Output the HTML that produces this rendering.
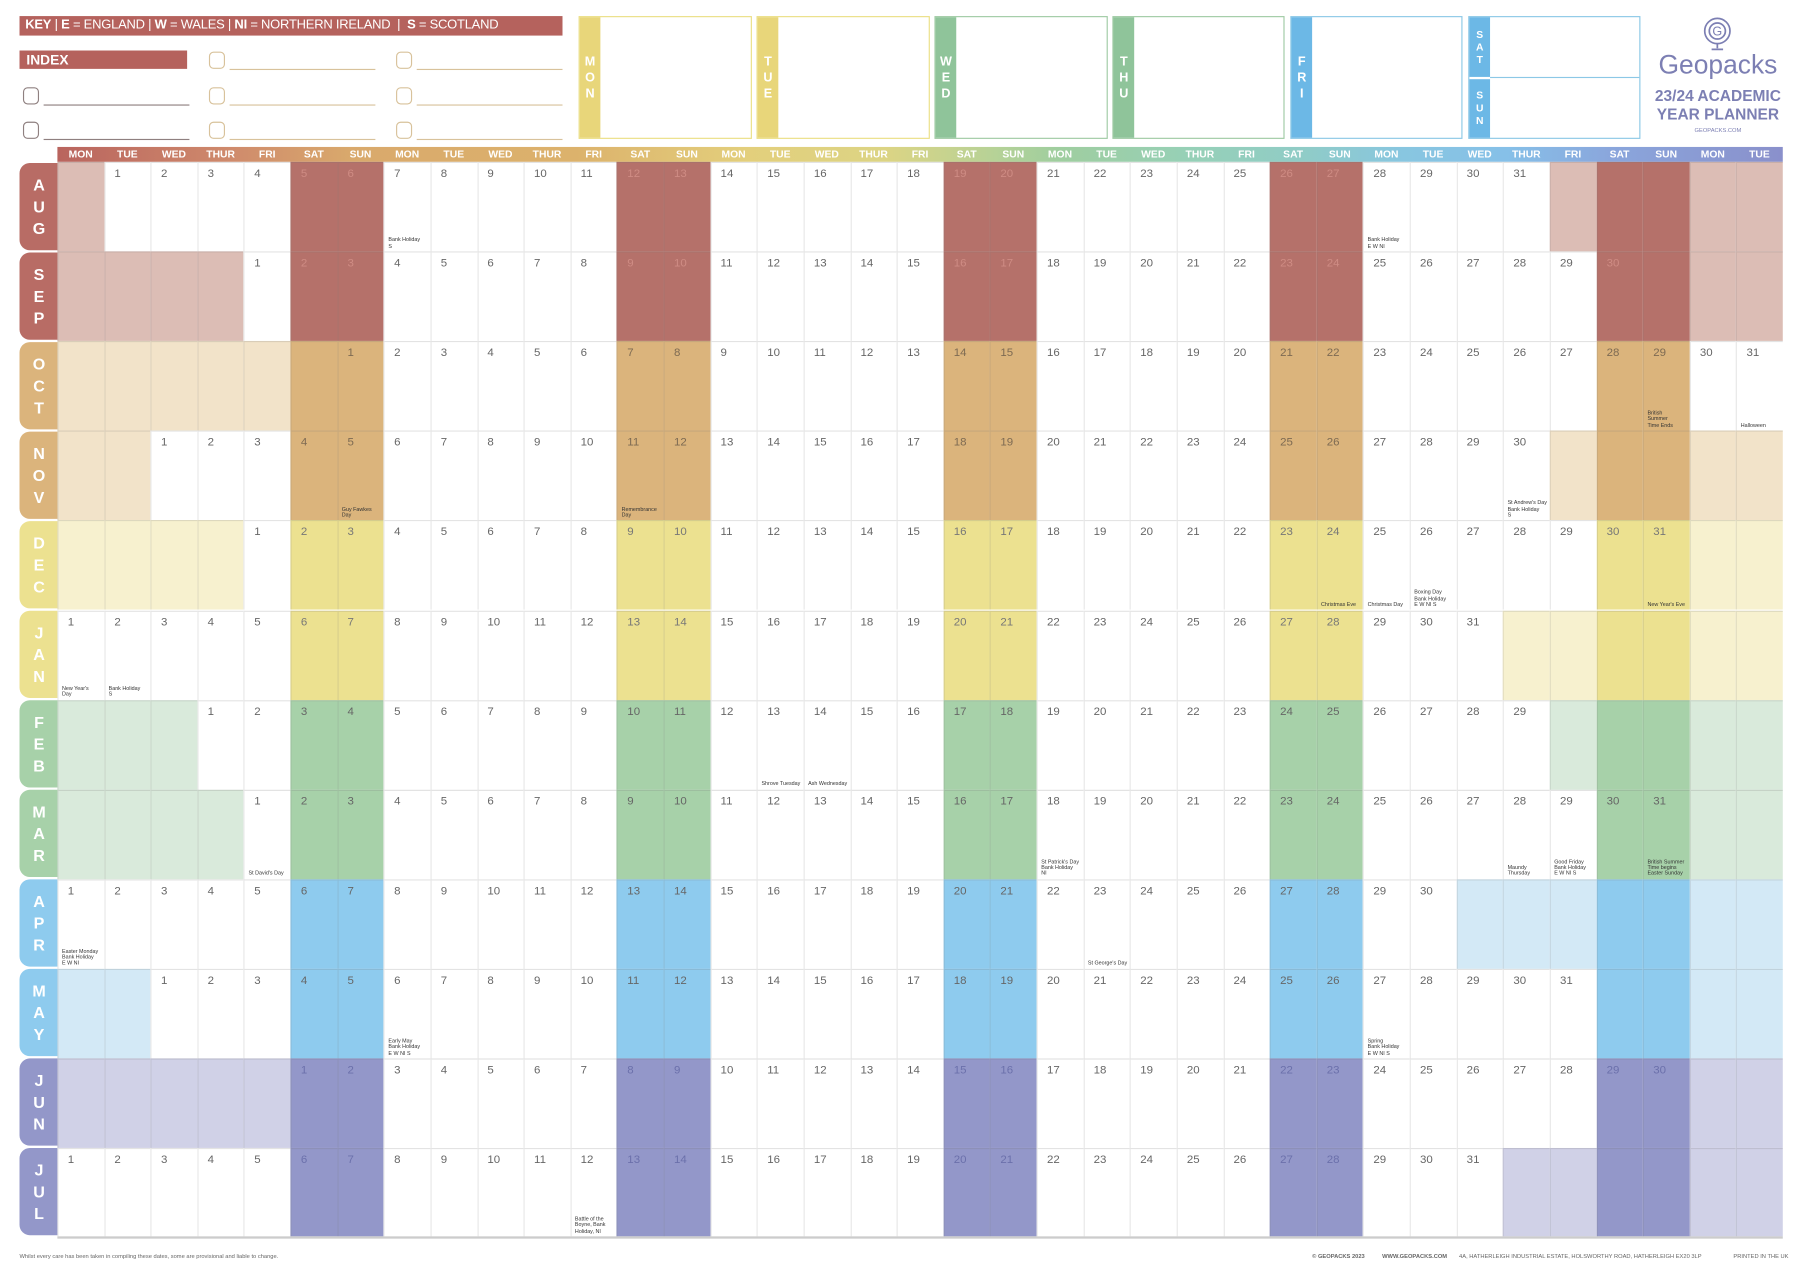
<!DOCTYPE html>
<html><head><meta charset="utf-8"><style>
*{margin:0;padding:0;box-sizing:border-box}
html,body{width:1800px;height:1278px;overflow:hidden;background:#fff}
.pg{position:absolute;left:0;top:0;width:1568px;height:1113px;transform:scale(1.14796);transform-origin:0 0;font-family:"Liberation Sans",sans-serif;color:#555}
.key{position:absolute;left:17px;top:14px;width:473px;height:17px;background:#b5625d;color:#fff;font-size:11.3px;letter-spacing:-0.2px;line-height:17px;padding-left:5px;white-space:nowrap;overflow:hidden}
.idx{position:absolute;left:17px;top:44px;width:146px;height:16px;background:#b5625d;color:#fff;font-size:12px;font-weight:bold;line-height:16px;padding-left:6px}
.cb{position:absolute;width:14px;height:15px;border:1.3px solid #d8c29b;border-radius:4px}
.cb.d{border-color:#8f8080}
.ln{position:absolute;height:1px;background:#d8c29b}
.ln.d{background:#8f8080}
.box{position:absolute;top:14px;height:107px;border:1.3px solid}
.tab{position:absolute;left:0;top:0;bottom:0;width:18px;color:#fff;font-size:11px;font-weight:bold;display:flex;flex-direction:column;align-items:center;justify-content:center;line-height:14px}
.hdr{position:absolute;left:50px;top:128px;width:1503px;height:13px;display:grid;grid-template-columns:repeat(37,1fr);background:linear-gradient(90deg,#b9645e 0%,#cf8a6c 10%,#d9a96c 17%,#dcb26c 30%,#e3cf7c 40%,#dcd484 48%,#b8d296 54%,#9fce9f 58%,#96d0b8 66%,#90ccc6 72%,#88c6e0 78%,#86c0e8 84%,#8aa6dc 90%,#8a90cb 100%)}
.hdr span{color:#fff;font-size:9px;font-weight:bold;text-align:center;line-height:13px}
.row{position:absolute;left:50px;width:1503px;height:78.1px;display:grid;grid-template-columns:repeat(37,1fr)}
.row>*{position:relative;font-style:normal;font-weight:normal;text-decoration:none;font-size:10px;padding:4px 0 0 8px;border-left:1px solid rgba(120,120,120,.17);border-top:1px solid rgba(120,120,120,.2);background:#fff;color:#666}
.row em{position:absolute;left:3px;bottom:2px;font-style:normal;font-size:4.7px;line-height:5.4px;color:#333;white-space:nowrap}
.r1 i{background:#dcbdb5}.r1 s{background:#b5716a;color:#cf8c84}
.r2 i{background:#f2e3c9}.r2 s{background:#dbb47c;color:#7d6a52}
.r3 i{background:#f7f1cf}.r3 s{background:#ece190;color:#777}
.r4 i{background:#d9eadb}.r4 s{background:#a7d1a9;color:#666}
.r5 i{background:#d3e9f6}.r5 s{background:#8ecbee;color:#666}
.r6 i{background:#d0d1e7}.r6 s{background:#9397c9;color:#6b70ab}
.mt{position:absolute;left:17px;width:34px;height:76px;border-radius:9px 0 0 9px;color:#fff;font-weight:bold;font-size:14px;line-height:19px;display:flex;flex-direction:column;align-items:center;justify-content:center}
.gb{position:absolute;left:50px;top:1077px;width:1503px;height:2px;background:#ccc}
.ft{position:absolute;top:1092px;font-size:5px;color:#666;white-space:nowrap}
.logo{position:absolute;left:1430px;width:133px;text-align:center;color:#7c7fb3}
</style></head><body><div class="pg">
<div class="key"><b>KEY</b> | <b>E</b> = ENGLAND | <b>W</b> = WALES | <b>NI</b> = NORTHERN IRELAND &nbsp;| &nbsp;<b>S</b> = SCOTLAND</div>
<div class="idx">INDEX</div>
<div class="cb d" style="left:20px;top:76px"></div><div class="ln d" style="left:38px;top:91px;width:127px"></div>
<div class="cb d" style="left:20px;top:106px"></div><div class="ln d" style="left:38px;top:121px;width:127px"></div>
<div class="cb" style="left:182px;top:45px"></div><div class="ln" style="left:200px;top:60px;width:127px"></div>
<div class="cb" style="left:182px;top:76px"></div><div class="ln" style="left:200px;top:91px;width:127px"></div>
<div class="cb" style="left:182px;top:106px"></div><div class="ln" style="left:200px;top:121px;width:127px"></div>
<div class="cb" style="left:345px;top:45px"></div><div class="ln" style="left:363px;top:60px;width:127px"></div>
<div class="cb" style="left:345px;top:76px"></div><div class="ln" style="left:363px;top:91px;width:127px"></div>
<div class="cb" style="left:345px;top:106px"></div><div class="ln" style="left:363px;top:121px;width:127px"></div>

<div class="box" style="left:504px;width:151px;border-color:#ebdf85"><div class="tab" style="background:#e8d67a"><span>M</span><span>O</span><span>N</span></div></div>
<div class="box" style="left:659px;width:151px;border-color:#ebdf85"><div class="tab" style="background:#e8d67a"><span>T</span><span>U</span><span>E</span></div></div>
<div class="box" style="left:814px;width:151px;border-color:#9fcaa4"><div class="tab" style="background:#8fc49a"><span>W</span><span>E</span><span>D</span></div></div>
<div class="box" style="left:969px;width:150px;border-color:#9fcaa4"><div class="tab" style="background:#8fc49a"><span>T</span><span>H</span><span>U</span></div></div>
<div class="box" style="left:1124px;width:150px;border-color:#8cc8e6"><div class="tab" style="background:#6cb8e6"><span>F</span><span>R</span><span>I</span></div></div>
<div class="box" style="left:1279px;width:150px;border-color:#8cc8e6">
<div class="tab" style="background:#6cb8e6;bottom:auto;height:52px;font-size:9px;line-height:11px"><span>S</span><span>A</span><span>T</span></div>
<div class="tab" style="background:#6cb8e6;top:54px;font-size:9px;line-height:11px"><span>S</span><span>U</span><span>N</span></div>
<div style="position:absolute;left:18px;right:0;top:52px;height:1.3px;background:#8cc8e6"></div></div>

<svg style="position:absolute;left:1482px;top:14px" width="28" height="32" viewBox="0 0 28 32"><circle cx="14" cy="13" r="11" fill="none" stroke="#7c7fb3" stroke-width="1.5"/><circle cx="14" cy="13" r="7" fill="none" stroke="#7c7fb3" stroke-width="1.5"/><text x="14" y="17" text-anchor="middle" font-family="Liberation Sans" font-size="11" fill="#7c7fb3">G</text><line x1="14" y1="24" x2="14" y2="28" stroke="#7c7fb3" stroke-width="1.5"/><line x1="9" y1="29" x2="19" y2="29" stroke="#7c7fb3" stroke-width="1.5"/></svg>
<div class="logo" style="top:43px;font-size:23px">Geopacks</div>
<div class="logo" style="top:76px;font-size:13.5px;line-height:16px;font-weight:bold">23/24 ACADEMIC<br>YEAR PLANNER</div>
<div class="logo" style="top:111px;font-size:5px">GEOPACKS.COM</div>

<div class="hdr"><span>MON</span><span>TUE</span><span>WED</span><span>THUR</span><span>FRI</span><span>SAT</span><span>SUN</span><span>MON</span><span>TUE</span><span>WED</span><span>THUR</span><span>FRI</span><span>SAT</span><span>SUN</span><span>MON</span><span>TUE</span><span>WED</span><span>THUR</span><span>FRI</span><span>SAT</span><span>SUN</span><span>MON</span><span>TUE</span><span>WED</span><span>THUR</span><span>FRI</span><span>SAT</span><span>SUN</span><span>MON</span><span>TUE</span><span>WED</span><span>THUR</span><span>FRI</span><span>SAT</span><span>SUN</span><span>MON</span><span>TUE</span></div>

<div class="mt" style="top:142px;background:#b86c65"><span>A</span><span>U</span><span>G</span></div>
<div class="mt" style="top:220px;background:#b86c65"><span>S</span><span>E</span><span>P</span></div>
<div class="mt" style="top:298px;background:#dbb47c"><span>O</span><span>C</span><span>T</span></div>
<div class="mt" style="top:376px;background:#dbb47c"><span>N</span><span>O</span><span>V</span></div>
<div class="mt" style="top:454px;background:#ece190"><span>D</span><span>E</span><span>C</span></div>
<div class="mt" style="top:532px;background:#ece190"><span>J</span><span>A</span><span>N</span></div>
<div class="mt" style="top:610px;background:#a7d1a9"><span>F</span><span>E</span><span>B</span></div>
<div class="mt" style="top:688px;background:#a7d1a9"><span>M</span><span>A</span><span>R</span></div>
<div class="mt" style="top:766px;background:#8ecbee"><span>A</span><span>P</span><span>R</span></div>
<div class="mt" style="top:844px;background:#8ecbee"><span>M</span><span>A</span><span>Y</span></div>
<div class="mt" style="top:922px;background:#9397c9"><span>J</span><span>U</span><span>N</span></div>
<div class="mt" style="top:1000px;background:#9397c9"><span>J</span><span>U</span><span>L</span></div>

<div class="row r1" style="top:141px"><i></i><b>1</b><b>2</b><b>3</b><b>4</b><s>5</s><s>6</s><b>7<em>Bank Holiday<br>S</em></b><b>8</b><b>9</b><b>10</b><b>11</b><s>12</s><s>13</s><b>14</b><b>15</b><b>16</b><b>17</b><b>18</b><s>19</s><s>20</s><b>21</b><b>22</b><b>23</b><b>24</b><b>25</b><s>26</s><s>27</s><b>28<em>Bank Holiday<br>E W NI</em></b><b>29</b><b>30</b><b>31</b><i></i><s></s><s></s><i></i><i></i></div>
<div class="row r1" style="top:219.1px"><i></i><i></i><i></i><i></i><b>1</b><s>2</s><s>3</s><b>4</b><b>5</b><b>6</b><b>7</b><b>8</b><s>9</s><s>10</s><b>11</b><b>12</b><b>13</b><b>14</b><b>15</b><s>16</s><s>17</s><b>18</b><b>19</b><b>20</b><b>21</b><b>22</b><s>23</s><s>24</s><b>25</b><b>26</b><b>27</b><b>28</b><b>29</b><s>30</s><s></s><i></i><i></i></div>
<div class="row r2" style="top:297.2px"><i></i><i></i><i></i><i></i><i></i><s></s><s>1</s><b>2</b><b>3</b><b>4</b><b>5</b><b>6</b><s>7</s><s>8</s><b>9</b><b>10</b><b>11</b><b>12</b><b>13</b><s>14</s><s>15</s><b>16</b><b>17</b><b>18</b><b>19</b><b>20</b><s>21</s><s>22</s><b>23</b><b>24</b><b>25</b><b>26</b><b>27</b><s>28</s><s>29<em>British<br>Summer<br>Time Ends</em></s><b>30</b><b>31<em>Halloween</em></b></div>
<div class="row r2" style="top:375.3px"><i></i><i></i><b>1</b><b>2</b><b>3</b><s>4</s><s>5<em>Guy Fawkes<br>Day</em></s><b>6</b><b>7</b><b>8</b><b>9</b><b>10</b><s>11<em>Remembrance<br>Day</em></s><s>12</s><b>13</b><b>14</b><b>15</b><b>16</b><b>17</b><s>18</s><s>19</s><b>20</b><b>21</b><b>22</b><b>23</b><b>24</b><s>25</s><s>26</s><b>27</b><b>28</b><b>29</b><b>30<em>St Andrew's Day<br>Bank Holiday<br>S</em></b><i></i><s></s><s></s><i></i><i></i></div>
<div class="row r3" style="top:453.4px"><i></i><i></i><i></i><i></i><b>1</b><s>2</s><s>3</s><b>4</b><b>5</b><b>6</b><b>7</b><b>8</b><s>9</s><s>10</s><b>11</b><b>12</b><b>13</b><b>14</b><b>15</b><s>16</s><s>17</s><b>18</b><b>19</b><b>20</b><b>21</b><b>22</b><s>23</s><s>24<em>Christmas Eve</em></s><b>25<em>Christmas Day</em></b><b>26<em>Boxing Day<br>Bank Holiday<br>E W NI S</em></b><b>27</b><b>28</b><b>29</b><s>30</s><s>31<em>New Year's Eve</em></s><i></i><i></i></div>
<div class="row r3" style="top:531.5px"><b>1<em>New Year's<br>Day</em></b><b>2<em>Bank Holiday<br>S</em></b><b>3</b><b>4</b><b>5</b><s>6</s><s>7</s><b>8</b><b>9</b><b>10</b><b>11</b><b>12</b><s>13</s><s>14</s><b>15</b><b>16</b><b>17</b><b>18</b><b>19</b><s>20</s><s>21</s><b>22</b><b>23</b><b>24</b><b>25</b><b>26</b><s>27</s><s>28</s><b>29</b><b>30</b><b>31</b><i></i><i></i><s></s><s></s><i></i><i></i></div>
<div class="row r4" style="top:609.6px"><i></i><i></i><i></i><b>1</b><b>2</b><s>3</s><s>4</s><b>5</b><b>6</b><b>7</b><b>8</b><b>9</b><s>10</s><s>11</s><b>12</b><b>13<em>Shrove Tuesday</em></b><b>14<em>Ash Wednesday</em></b><b>15</b><b>16</b><s>17</s><s>18</s><b>19</b><b>20</b><b>21</b><b>22</b><b>23</b><s>24</s><s>25</s><b>26</b><b>27</b><b>28</b><b>29</b><i></i><s></s><s></s><i></i><i></i></div>
<div class="row r4" style="top:687.7px"><i></i><i></i><i></i><i></i><b>1<em>St David's Day</em></b><s>2</s><s>3</s><b>4</b><b>5</b><b>6</b><b>7</b><b>8</b><s>9</s><s>10</s><b>11</b><b>12</b><b>13</b><b>14</b><b>15</b><s>16</s><s>17</s><b>18<em>St Patrick's Day<br>Bank Holiday<br>NI</em></b><b>19</b><b>20</b><b>21</b><b>22</b><s>23</s><s>24</s><b>25</b><b>26</b><b>27</b><b>28<em>Maundy<br>Thursday</em></b><b>29<em>Good Friday<br>Bank Holiday<br>E W NI S</em></b><s>30</s><s>31<em>British Summer<br>Time begins<br>Easter Sunday</em></s><i></i><i></i></div>
<div class="row r5" style="top:765.8px"><b>1<em>Easter Monday<br>Bank Holiday<br>E W NI</em></b><b>2</b><b>3</b><b>4</b><b>5</b><s>6</s><s>7</s><b>8</b><b>9</b><b>10</b><b>11</b><b>12</b><s>13</s><s>14</s><b>15</b><b>16</b><b>17</b><b>18</b><b>19</b><s>20</s><s>21</s><b>22</b><b>23<em>St George's Day</em></b><b>24</b><b>25</b><b>26</b><s>27</s><s>28</s><b>29</b><b>30</b><i></i><i></i><i></i><s></s><s></s><i></i><i></i></div>
<div class="row r5" style="top:843.9px"><i></i><i></i><b>1</b><b>2</b><b>3</b><s>4</s><s>5</s><b>6<em>Early May<br>Bank Holiday<br>E W NI S</em></b><b>7</b><b>8</b><b>9</b><b>10</b><s>11</s><s>12</s><b>13</b><b>14</b><b>15</b><b>16</b><b>17</b><s>18</s><s>19</s><b>20</b><b>21</b><b>22</b><b>23</b><b>24</b><s>25</s><s>26</s><b>27<em>Spring<br>Bank Holiday<br>E W NI S</em></b><b>28</b><b>29</b><b>30</b><b>31</b><s></s><s></s><i></i><i></i></div>
<div class="row r6" style="top:922px"><i></i><i></i><i></i><i></i><i></i><s>1</s><s>2</s><b>3</b><b>4</b><b>5</b><b>6</b><b>7</b><s>8</s><s>9</s><b>10</b><b>11</b><b>12</b><b>13</b><b>14</b><s>15</s><s>16</s><b>17</b><b>18</b><b>19</b><b>20</b><b>21</b><s>22</s><s>23</s><b>24</b><b>25</b><b>26</b><b>27</b><b>28</b><s>29</s><s>30</s><i></i><i></i></div>
<div class="row r6" style="top:1000.1px;height:77px"><b>1</b><b>2</b><b>3</b><b>4</b><b>5</b><s>6</s><s>7</s><b>8</b><b>9</b><b>10</b><b>11</b><b>12<em>Battle of the<br>Boyne, Bank<br>Holiday, NI</em></b><s>13</s><s>14</s><b>15</b><b>16</b><b>17</b><b>18</b><b>19</b><s>20</s><s>21</s><b>22</b><b>23</b><b>24</b><b>25</b><b>26</b><s>27</s><s>28</s><b>29</b><b>30</b><b>31</b><i></i><i></i><s></s><s></s><i></i><i></i></div>
<div class="gb"></div>
<div class="ft" style="left:17px">Whilst every care has been taken in compiling these dates, some are provisional and liable to change.</div>
<div class="ft" style="left:1143px"><b>© GEOPACKS 2023</b></div>
<div class="ft" style="left:1204px"><b>WWW.GEOPACKS.COM</b></div>
<div class="ft" style="left:1271px">4A, HATHERLEIGH INDUSTRIAL ESTATE, HOLSWORTHY ROAD, HATHERLEIGH EX20 3LP</div>
<div class="ft" style="left:1510px">PRINTED IN THE UK</div>
</div></body></html>
